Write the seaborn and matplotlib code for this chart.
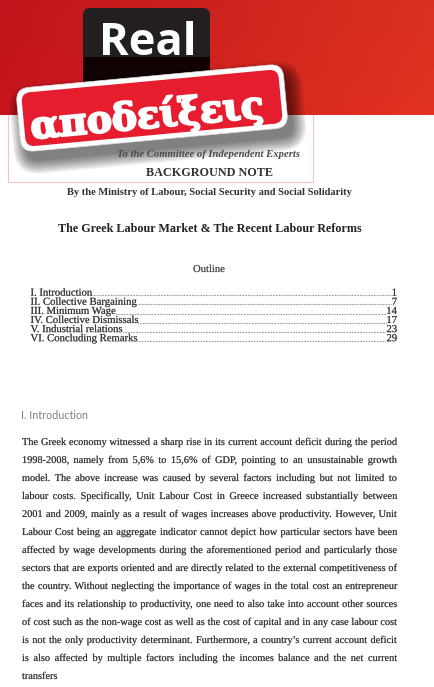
import numpy as np
import matplotlib
matplotlib.use("Agg")
import matplotlib.pyplot as plt
import matplotlib.patheffects as pe
import seaborn as sns
from matplotlib.patches import FancyBboxPatch, Rectangle
from matplotlib.transforms import Affine2D

sns.set_theme(style="white")
plt.rcParams['font.family'] = ['Liberation Serif', 'DejaVu Sans']

# ---------------- content ----------------
brand_top = "Real"
brand_sticker = "αποδείξεις"
doc_to = "To the Committee of Independent Experts"
doc_kind = "BACKGROUND NOTE"
doc_by = "By the Ministry of Labour, Social Security and Social Solidarity"
doc_title = "The Greek Labour Market & The Recent Labour Reforms"
outline_title = "Outline"
toc_sections = ["I. Introduction", "II. Collective Bargaining", "III. Minimum Wage",
                "IV. Collective Dismissals", "V. Industrial relations", "VI. Concluding Remarks"]
toc_pages = [1, 7, 14, 17, 23, 29]
section_heading = "I. Introduction"
body_lines = [
    "The Greek economy witnessed a sharp rise in its current account deficit during the period",
    "1998-2008, namely from 5,6% to 15,6% of GDP, pointing to an unsustainable growth",
    "model. The above increase was caused by several factors including but not limited to",
    "labour costs. Specifically, Unit Labour Cost in Greece increased substantially between",
    "2001 and 2009, mainly as a result of wages increases above productivity. However, Unit",
    "Labour Cost being an aggregate indicator cannot depict how particular sectors have been",
    "affected by wage developments during the aforementioned period and particularly those",
    "sectors that are exports oriented and are directly related to the external competitiveness of",
    "the country. Without neglecting the importance of wages in the total cost an entrepreneur",
    "faces and its relationship to productivity, one need to also take into account other sources",
    "of cost such as the non-wage cost as well as the cost of capital and in any case labour cost",
    "is not the only productivity determinant. Furthermore, a country\u2019s current account deficit",
    "is also affected by multiple factors including the incomes balance and the net current",
    "transfers",
]

# ---------------- figure ----------------
W, H = 435, 687
fig = plt.figure(figsize=(W / 100, H / 100), dpi=100)
fig.patch.set_facecolor("white")
ax = fig.add_axes([0, 0, 1, 1])
renderer = fig.canvas.get_renderer()


def width_of(t):
    return t.get_window_extent(renderer=renderer).width


def fitted(x, y, s, target_w, ha="center", va="baseline", base=10, **kw):
    t = ax.text(x, y, s, fontsize=base, ha=ha, va=va, **kw)
    t.set_fontsize(base * target_w / width_of(t))
    return t


def heavy(color, lw=0.45, alpha=1.0):
    return [pe.withStroke(linewidth=lw, foreground=color, alpha=alpha)]


# red banner
gx = np.linspace(0, 1, 300)[None, :, None]
gy = np.linspace(0, 1, 80)[:, None, None]
left = np.array([0.77, 0.08, 0.11])
right = np.array([0.88, 0.20, 0.13])
img = left + (right - left) * gx
img = np.clip(img * (0.97 + 0.04 * gy), 0, 1)
ax.imshow(img, extent=[0, W, 115, 0], aspect="auto", zorder=1, interpolation="bilinear")

ax.set_xlim(0, W)
ax.set_ylim(H, 0)
ax.axis("off")

# pink frame
ax.add_patch(Rectangle((8, 100), 305, 82, fill=False, ec="#f3c3c8", lw=0.8, zorder=0.5))

# black "Real" box
box = FancyBboxPatch((83, 8), 127, 90, boxstyle="round,pad=0,rounding_size=7",
                     fc="#231f20", ec="none", zorder=2)
ax.add_patch(box)
low = Rectangle((83, 57), 127, 45, fc="#110304", ec="none", zorder=2.1)
ax.add_patch(low)
low.set_clip_path(box)
fitted(99, 55, brand_top, 98, ha="left", color="white", fontweight="bold",
       family="Open Sans", zorder=3)

# sticker
cx, cy = 152, 108
sw, sh = 268, 64
rot = Affine2D().rotate_deg_around(cx, cy, -5.3) + ax.transData
for i in range(9):
    p = i * 1.6
    ax.add_patch(FancyBboxPatch((cx - sw / 2 + 5 - p, cy - sh / 2 + 10 - p), sw + 2 * p, sh + 2 * p,
                                boxstyle=f"round,pad=0,rounding_size={13 + p}",
                                fc="black", ec="none", alpha=0.07, zorder=4, transform=rot))
ax.add_patch(FancyBboxPatch((cx - sw / 2, cy - sh / 2), sw, sh,
                            boxstyle="round,pad=0,rounding_size=13",
                            fc="white", ec="#d8d8d8", lw=0.5, zorder=5, transform=rot))
ax.add_patch(FancyBboxPatch((cx - sw / 2 + 5, cy - sh / 2 + 5), sw - 10, sh - 10,
                            boxstyle="round,pad=0,rounding_size=9",
                            fc="#e51d2f", ec="none", zorder=5.1, transform=rot))
st = fitted(148, 128, brand_sticker, 234, ha="center", color="white",
            fontweight="bold", family="DejaVu Serif", zorder=6,
            path_effects=heavy("white", 1.6))
st.set_rotation(5.3)
st.set_rotation_mode("anchor")

# document header
fitted(209, 157, doc_to, 182, color="#4a4a4a", style="italic", fontweight="bold", zorder=4.5)
fitted(210, 176, doc_kind, 126, color="#333333", fontweight="bold", zorder=4.5)
fitted(209.5, 195, doc_by, 285, color="#333333", fontweight="bold")
fitted(210, 232.5, doc_title, 306, color="#222222", fontweight="bold")
fitted(209, 272, outline_title, 32, color="#444444", path_effects=heavy("#444444", 0.2, 0.5))

# table of contents
t0 = ax.text(0, 0, toc_sections[-1], fontsize=10)
toc_size = 10 * 107 / width_of(t0)
t0.remove()
x_left, x_right = 30.5, 397
toc_col = "#2e2e2e"
for i, (sec, pg) in enumerate(zip(toc_sections, toc_pages)):
    yb = 295.7 + 9.1 * i
    tl = ax.text(x_left, yb, sec, fontsize=toc_size, ha="left", va="baseline", color=toc_col,
                 path_effects=heavy(toc_col, 0.22, 0.5))
    tr = ax.text(x_right, yb, str(pg), fontsize=toc_size, ha="right", va="baseline", color=toc_col,
                 path_effects=heavy(toc_col, 0.22, 0.5))
    x0 = x_left + width_of(tl) + 0.5
    x1 = x_right - width_of(tr) - 0.5
    sns.lineplot(x=[x0, x1], y=[yb - 0.4, yb - 0.4], ax=ax, color="#555555", lw=0.8,
                 linestyle=(0, (0.5, 0.9)), legend=False)

ax.set_xlim(0, W)
ax.set_ylim(H, 0)
ax.axis("off")

# section heading
fitted(21, 418.7, section_heading, 67, ha="left", color="#808080", family="Lato")

# justified paragraph
tb = ax.text(0, 0, "transfers", fontsize=10)
body_size = 10 * 35.5 / width_of(tb)
tb.remove()
bx0, bx1 = 22, 397
body_col = "#2a2a2a"
for i, line in enumerate(body_lines):
    yb = 445 + 18 * i
    if i == len(body_lines) - 1:
        ax.text(bx0, yb, line, fontsize=body_size, ha="left", va="baseline", color=body_col,
                path_effects=heavy(body_col, 0.2, 0.45))
        continue
    words = line.split(" ")
    ts = [ax.text(0, yb, w, fontsize=body_size, ha="left", va="baseline", color=body_col,
                  path_effects=heavy(body_col, 0.2, 0.45))
          for w in words]
    ws = [width_of(t) for t in ts]
    gap = (bx1 - bx0 - sum(ws)) / (len(words) - 1)
    x = bx0
    for t, w in zip(ts, ws):
        t.set_x(x)
        x += w + gap

fig.savefig("out.png", dpi=100, facecolor="white")
